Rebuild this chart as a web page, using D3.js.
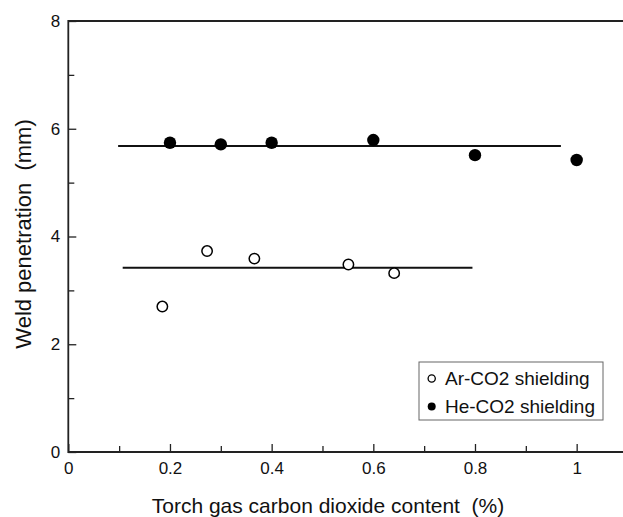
<!DOCTYPE html>
<html>
<head>
<meta charset="utf-8">
<script src="https://cdn.jsdelivr.net/npm/d3@7"></script>
<style>
  body { margin: 0; background: #fff; }
  svg { display: block; font-family: "Liberation Sans", Arial, sans-serif; }
</style>
</head>
<body>
<svg id="chart"></svg>
<script>
// data
let arX = [0.185, 0.273, 0.366, 0.551, 0.641]
let arY = [2.70, 3.73, 3.59, 3.48, 3.32]
let heX = [0.2, 0.3, 0.4, 0.6, 0.8, 1.0]
let heY = [5.74, 5.71, 5.74, 5.79, 5.51, 5.42]
let arFitX = [0.107, 0.795]
let arFitY = [3.42, 3.42]
let heFitX = [0.098, 0.969]
let heFitY = [5.68, 5.68]
let xMajor = [0, 0.2, 0.4, 0.6, 0.8, 1]
let xMinor = [0.1, 0.3, 0.5, 0.7, 0.9]
let yMajor = [0, 2, 4, 6, 8]
let yMinor = [1, 3, 5, 7]
let seriesNames = ['Ar-CO2 shielding', 'He-CO2 shielding']

let width = 623
let height = 517

let svg = d3.select('#chart').attr('width', width).attr('height', height)

let xScale = d3.scaleLinear().domain([0, 1.1]).range([68.3, 627.5])
let yScale = d3.scaleLinear().domain([0, 8]).range([452, 21])

// minor ticks first (no labels)
svg.append('g')
  .attr('transform', 'translate(0,' + yScale(0) + ')')
  .call(d3.axisBottom(xScale).tickValues(xMinor).tickSize(-6).tickFormat(''))
  .call(g => g.select('.domain').remove())
svg.append('g')
  .attr('transform', 'translate(' + xScale(0) + ',0)')
  .call(d3.axisLeft(yScale).tickValues(yMinor).tickSize(-6).tickFormat(''))
  .call(g => g.select('.domain').remove())

let xAxis = svg.append('g')
  .attr('transform', 'translate(0,' + yScale(0) + ')')
  .call(d3.axisBottom(xScale).tickValues(xMajor).tickSize(-8).tickPadding(10).tickFormat(d3.format('')))
xAxis.select('.domain').remove()
xAxis.selectAll('text').attr('font-size', 17).attr('fill', '#111').attr('font-family', null)

let yAxis = svg.append('g')
  .attr('transform', 'translate(' + xScale(0) + ',0)')
  .call(d3.axisLeft(yScale).tickValues(yMajor).tickSize(-8).tickPadding(8))
yAxis.select('.domain').remove()
yAxis.selectAll('text').attr('font-size', 17).attr('fill', '#111').attr('font-family', null)

svg.selectAll('.tick line').attr('stroke', '#222').attr('stroke-width', 1.3)

// frame: left, bottom, top
svg.append('path')
  .attr('d', 'M' + xScale(1.1) + ',' + yScale(8) + 'H' + xScale(0) + 'V' + yScale(0) + 'H' + xScale(1.1))
  .attr('fill', 'none').attr('stroke', '#222').attr('stroke-width', 1.8)

// fit lines
let line = d3.line().x(d => xScale(d[0])).y(d => yScale(d[1]))
svg.append('path').datum(d3.zip(heFitX, heFitY)).attr('d', line)
  .attr('stroke', '#111').attr('stroke-width', 2).attr('fill', 'none')
svg.append('path').datum(d3.zip(arFitX, arFitY)).attr('d', line)
  .attr('stroke', '#111').attr('stroke-width', 2).attr('fill', 'none')

// points
svg.selectAll('.he').data(d3.zip(heX, heY)).enter().append('circle')
  .attr('class', 'he')
  .attr('cx', d => xScale(d[0])).attr('cy', d => yScale(d[1]))
  .attr('r', 6.2).attr('fill', '#000')
svg.selectAll('.ar').data(d3.zip(arX, arY)).enter().append('circle')
  .attr('class', 'ar')
  .attr('cx', d => xScale(d[0])).attr('cy', d => yScale(d[1]))
  .attr('r', 5.2).attr('fill', '#fff').attr('stroke', '#000').attr('stroke-width', 1.5)

// axis titles
svg.append('text')
  .attr('x', 328).attr('y', 513)
  .attr('text-anchor', 'middle').attr('font-size', 21).attr('fill', '#111')
  .style('white-space', 'pre')
  .text('Torch gas carbon dioxide content  (%)')
svg.append('text')
  .attr('transform', 'translate(31,234) rotate(-90)')
  .attr('text-anchor', 'middle').attr('font-size', 22).attr('fill', '#111')
  .style('white-space', 'pre')
  .text('Weld penetration  (mm)')

// legend
let legend = svg.append('g').attr('transform', 'translate(419,362)')
legend.append('rect').attr('width', 184).attr('height', 58)
  .attr('fill', '#fff').attr('stroke', '#666').attr('stroke-width', 1)
legend.selectAll('text').data(seriesNames).enter().append('text')
  .attr('x', 26).attr('y', (d, i) => 23 + i * 28)
  .attr('font-size', 19).attr('fill', '#111')
  .text(d => d)
legend.selectAll('circle').data(seriesNames).enter().append('circle')
  .attr('cx', 12.7).attr('cy', (d, i) => 16.5 + i * 28)
  .attr('r', (d, i) => i == 0 ? 3.6 : 4)
  .attr('fill', (d, i) => i == 0 ? '#fff' : '#000')
  .attr('stroke', '#000').attr('stroke-width', (d, i) => i == 0 ? 1.3 : 0)
</script>
</body>
</html>
